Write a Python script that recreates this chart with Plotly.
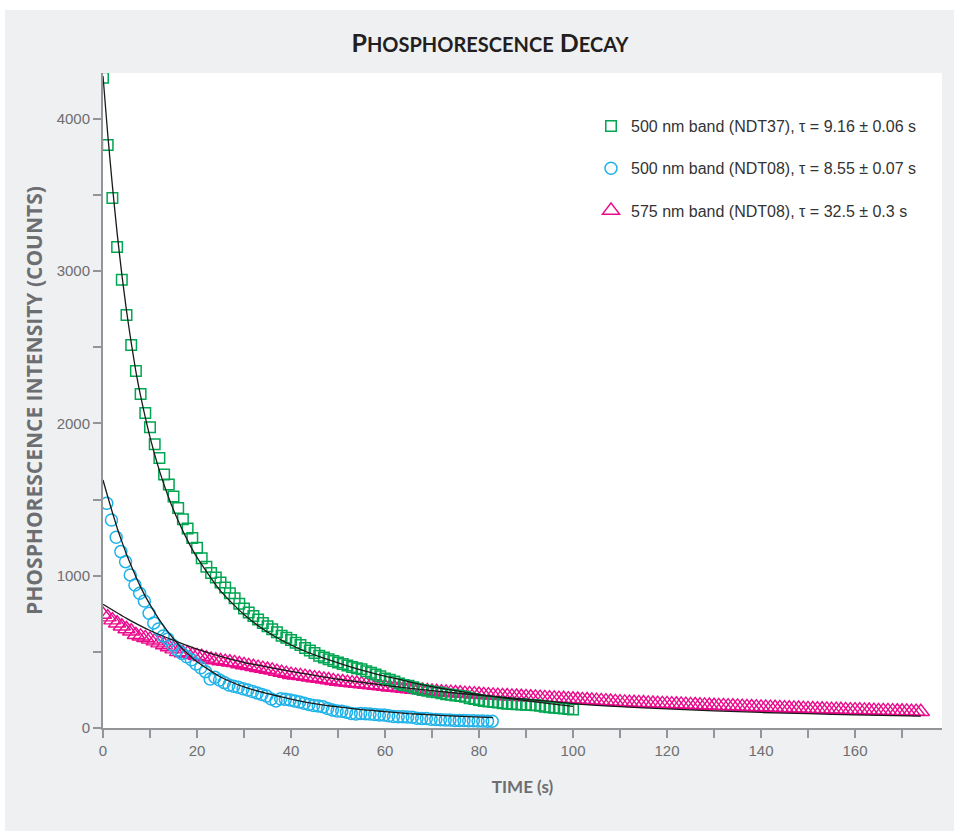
import plotly.graph_objects as go

# ---------------- data ----------------
green_t = list(range(0, 101))
green_counts = [
    4268, 3828, 3480, 3158, 2942, 2712, 2515, 2344, 2193, 2068,
    1975, 1862, 1772, 1665, 1598, 1520, 1444, 1370, 1309, 1248,
    1184, 1114, 1059, 1018, 988, 955, 922, 885, 852, 815,
    785, 758, 735, 712, 690, 668, 648, 628, 606, 592,
    578, 560, 545, 525, 508, 492, 475, 463, 452, 440,
    430, 420, 410, 400, 392, 385, 372, 362, 352, 340,
    325, 316, 305, 292, 282, 277, 268, 258, 250, 244,
    238, 234, 228, 222, 218, 214, 210, 205, 196, 190,
    184, 178, 174, 170, 167, 163, 160, 158, 156, 154,
    153, 151, 150, 146, 140, 136, 133, 131, 128, 125,
    122,
]

blue_t = [0.8 + i for i in range(83)]
blue_counts = [
    1475, 1366, 1252, 1158, 1092, 1005, 939, 884, 834, 753,
    690, 650, 604, 584, 545, 512, 490, 468, 448, 420,
    395, 370, 322, 333, 315, 298, 282, 274, 268, 258,
    250, 240, 230, 220, 210, 190, 178, 192, 188, 184,
    178, 170, 162, 155, 148, 145, 140, 128, 118, 112,
    110, 104, 96, 92, 96, 94, 92, 88, 86, 85,
    80, 76, 74, 74, 72, 70, 64, 63, 62, 57,
    56, 54, 52, 52, 50, 50, 49, 48, 47, 46,
    46, 45, 45,
]

magenta_t = list(range(0, 175))
magenta_counts = [
    745, 728, 708, 688, 668, 650, 635, 612, 602, 592,
    582, 570, 557, 545, 532, 518, 500, 492, 490, 480,
    474, 468, 458, 450, 446, 440, 436, 432, 428, 420,
    414, 408, 402, 396, 390, 384, 378, 370, 364, 357,
    350, 346, 342, 337, 333, 328, 324, 319, 315, 310,
    305, 302, 298, 295, 292, 288, 285, 282, 278, 275,
    272, 268, 265, 262, 259, 256, 253, 250, 247, 244,
    241, 238, 236, 234, 232, 230, 228, 226, 224, 222,
    220, 218, 216, 214, 213, 211, 210, 208, 207, 205,
    204, 202, 201, 199, 198, 196, 195, 193, 192, 190,
    189, 187, 185, 184, 182, 180, 178, 176, 174, 172,
    170, 168, 167, 166, 165, 164, 162, 161, 160, 159,
    158, 157, 156, 155, 154, 152, 151, 150, 149, 148,
    146, 145, 145, 144, 143, 142, 140, 139, 138, 137,
    136, 135, 134, 133, 132, 131, 130, 129, 128, 127,
    126, 125, 124, 123, 122, 121, 121, 120, 119, 118,
    118, 117, 116, 115, 114, 113, 113, 112, 111, 110,
    110, 109, 108, 108, 107,
]

# fitted decay curves
green_fit_t = [0, 1, 2, 3, 4, 5, 6, 7, 8, 10, 12, 14, 16, 18, 20, 25, 30, 35, 40,
               45, 50, 55, 60, 65, 70, 75, 80, 85, 90, 95, 100]
green_fit = [4280, 3900, 3560, 3250, 2980, 2740, 2530, 2340, 2180, 1910, 1690, 1510,
             1360, 1230, 1120, 900, 745, 630, 545, 480, 428, 380, 340, 305, 272,
             245, 220, 198, 180, 160, 142]

blue_fit_t = [0, 1, 2, 3, 4, 5, 6, 8, 10, 12, 14, 16, 18, 20, 25, 30, 35, 40, 45,
              50, 55, 60, 65, 70, 75, 83]
blue_fit = [1628, 1520, 1415, 1315, 1225, 1140, 1065, 925, 810, 710, 625, 550, 488,
            435, 335, 270, 225, 190, 160, 138, 120, 108, 95, 86, 78, 68]

magenta_fit_t = [0, 5, 10, 15, 20, 25, 30, 35, 40, 50, 60, 70, 80, 90, 100, 110,
                 120, 130, 140, 150, 160, 174]
magenta_fit = [812, 720, 640, 575, 518, 470, 430, 400, 372, 320, 280, 245, 215, 190,
               160, 140, 125, 113, 102, 94, 86, 78]

legend_labels = [
    "500 nm band (NDT37), τ = 9.16 ± 0.06 s",
    "500 nm band (NDT08), τ = 8.55 ± 0.07 s",
    "575 nm band (NDT08), τ = 32.5 ± 0.3 s",
]

x_ticks = [0, 20, 40, 60, 80, 100, 120, 140, 160]
y_ticks = [0, 1000, 2000, 3000, 4000]

# ---------------- styling ----------------
GREEN = "#00a651"
BLUE = "#1fb3ea"
MAGENTA = "#ec0a8c"
GRAY_TXT = "#6d6e71"
AXIS_GRAY = "#939598"
PANEL = "#eff0f2"

fig = go.Figure()

fig.add_trace(go.Scatter(
    x=magenta_t, y=magenta_counts, mode="markers", name=legend_labels[2],
    legendgroup="c", legendrank=3,
    marker=dict(symbol="triangle-up-open", size=15, color=MAGENTA,
                line=dict(width=1.4, color=MAGENTA)),
))
fig.add_trace(go.Scatter(
    x=blue_t, y=blue_counts, mode="markers", name=legend_labels[1],
    legendgroup="b", legendrank=2,
    marker=dict(symbol="circle-open", size=12, color=BLUE,
                line=dict(width=1.5, color=BLUE)),
))
fig.add_trace(go.Scatter(
    x=green_t, y=green_counts, mode="markers", name=legend_labels[0],
    legendgroup="a", legendrank=1,
    marker=dict(symbol="square-open", size=10.5, color=GREEN,
                line=dict(width=1.5, color=GREEN)),
))

for ft, fv in [(green_fit_t, green_fit), (blue_fit_t, blue_fit), (magenta_fit_t, magenta_fit)]:
    fig.add_trace(go.Scatter(
        x=ft, y=fv, mode="lines", showlegend=False, hoverinfo="skip",
        line=dict(color="#1a1a1a", width=1.3, shape="spline", smoothing=0.6),
    ))

W, H = 954, 831
L, R, T, B = 103, 12, 73, 103
pw, ph = W - L - R, H - T - B


def px_x(p):
    return (p - L) / pw


def px_y(p):
    return (H - B - p) / ph


fig.update_layout(
    width=W, height=H,
    margin=dict(l=L, r=R, t=T, b=B, pad=0),
    paper_bgcolor=PANEL,
    plot_bgcolor="white",
    showlegend=True,
    title=dict(
        text="<b>P<span style='font-size:20px'>HOSPHORESCENCE</span> "
             "D<span style='font-size:20px'>ECAY</span></b>",
        x=px_x(490), xref="paper", xanchor="center",
        y=1 - 43 / H, yanchor="middle",
        font=dict(family="Lato", size=25, color="#231f20"),
    ),
    legend=dict(
        x=px_x(591), y=px_y(109), xanchor="left", yanchor="top",
        bgcolor="rgba(0,0,0,0)", borderwidth=0,
        font=dict(family="Liberation Sans", size=16, color="#333333"),
        tracegroupgap=18.5, traceorder="grouped",
        itemclick=False,
    ),
    xaxis=dict(
        range=[0, 178.5], tickvals=x_ticks, ticktext=[str(v) for v in x_ticks],
        ticks="outside", ticklen=8, tickwidth=1.5, tickcolor=AXIS_GRAY,
        minor=dict(dtick=10, tick0=0, ticks="outside", ticklen=8, tickwidth=1.5,
                   tickcolor=AXIS_GRAY, showgrid=False),
        showline=True, linecolor=AXIS_GRAY, linewidth=2,
        showgrid=False, zeroline=False,
        tickfont=dict(family="Liberation Sans", size=15, color=GRAY_TXT),
        title=dict(text="<b>TIME (s)</b>", standoff=23,
                   font=dict(family="Lato", size=17, color=GRAY_TXT)),
    ),
    yaxis=dict(
        range=[0, 4300], tickvals=y_ticks, ticktext=[str(v) for v in y_ticks],
        ticks="outside", ticklen=8, tickwidth=1.5, tickcolor=AXIS_GRAY,
        minor=dict(dtick=500, tick0=0, ticks="outside", ticklen=8, tickwidth=1.5,
                   tickcolor=AXIS_GRAY, showgrid=False),
        showline=True, linecolor=AXIS_GRAY, linewidth=2,
        showgrid=False, zeroline=False,
        tickfont=dict(family="Liberation Sans", size=15, color=GRAY_TXT),
        title=dict(text="<b>PHOSPHORESCENCE INTENSITY (COUNTS)</b>", standoff=8,
                   font=dict(family="Open Sans", size=21, color=GRAY_TXT)),
    ),
    shapes=[
        dict(type="rect", xref="paper", yref="paper",
             x0=px_x(-5), x1=px_x(W + 5), y0=px_y(10), y1=px_y(-5),
             fillcolor="white", line=dict(width=0), layer="above"),
        dict(type="rect", xref="paper", yref="paper",
             x0=px_x(-5), x1=px_x(5), y0=px_y(H + 5), y1=px_y(-5),
             fillcolor="white", line=dict(width=0), layer="above"),
    ],
)

fig.write_html("out.html")
